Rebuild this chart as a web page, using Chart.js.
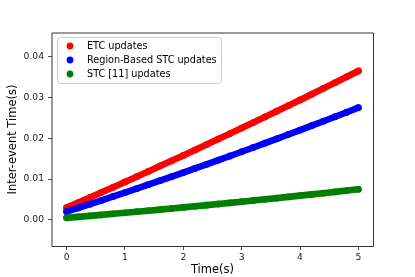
<!DOCTYPE html>
<html>
<head>
<meta charset="utf-8">
<script src="https://cdn.jsdelivr.net/npm/chart.js@4"></script>
<style>
  html, body { margin: 0; padding: 0; background: #fff; }
  canvas { display: block; }
</style>
</head>
<body>
<canvas id="chart" width="415" height="277"></canvas>
<script>
/* data */
const timeValues = [0, 0.2, 0.4, 0.6, 0.8, 1.0, 1.2, 1.4, 1.6, 1.8, 2.0, 2.2, 2.4,
                    2.6, 2.8, 3.0, 3.2, 3.4, 3.6, 3.8, 4.0, 4.2, 4.4, 4.6, 4.8, 5.0];

const etcValues = [0.0030, 0.00424, 0.0055, 0.00676, 0.00802, 0.0093, 0.01058, 0.01188,
                   0.01318, 0.01448, 0.0158, 0.01712, 0.01846, 0.0198, 0.02114, 0.0225,
                   0.02386, 0.02524, 0.02662, 0.028, 0.0294, 0.0308, 0.03222, 0.03364,
                   0.03506, 0.0365];

const regionValues = [0.0020, 0.00292, 0.00386, 0.0048, 0.00574, 0.0067, 0.00766, 0.00864,
                      0.00962, 0.0106, 0.0116, 0.0126, 0.01362, 0.01464, 0.01566, 0.0167,
                      0.01774, 0.0188, 0.01986, 0.02092, 0.022, 0.02308, 0.02418, 0.02528,
                      0.02638, 0.0275];

const stcValues = [0.0005, 0.00074, 0.00099, 0.00123, 0.00149, 0.00174, 0.0020, 0.00226,
                   0.00252, 0.00279, 0.00306, 0.00333, 0.00361, 0.00389, 0.00417, 0.00446,
                   0.00475, 0.00504, 0.00534, 0.00564, 0.00594, 0.00625, 0.00655, 0.00687,
                   0.00718, 0.0075];

const seriesLabels = ['ETC updates', 'Region-Based STC updates', 'STC [11] updates'];
const seriesColors = ['#ff0000', '#0000ff', '#008000'];

const xTicks = [0, 1, 2, 3, 4, 5];
const yTicks = [0.00, 0.01, 0.02, 0.03, 0.04];

const FONT = "'DejaVu Sans', sans-serif";

function toPoints(values) {
    return values.map((v, i) => ({ x: timeValues[i], y: v }));
}

// one dataset per series, drawn as a thick run of dots
const datasets = [etcValues, regionValues, stcValues].map((vals, i) => ({
    label: seriesLabels[i],
    data: toPoints(vals),
    showLine: true,
    borderColor: seriesColors[i],
    backgroundColor: seriesColors[i],
    borderWidth: 6.6,
    borderCapStyle: 'round',
    borderJoinStyle: 'round',
    pointRadius: 3.4,
    pointBorderWidth: 0,
    order: 3 - i
}));

/* spines, legend box and axis titles, matplotlib style */
const decorPlugin = {
    id: 'decor',
    afterDraw(chart) {
        const ctx = chart.ctx;
        const a = chart.chartArea;
        ctx.save();

        // spines
        ctx.strokeStyle = '#000';
        ctx.lineWidth = 0.8;
        ctx.beginPath();
        ctx.moveTo(a.left, a.top);
        ctx.lineTo(a.right + 0.5, a.top);
        ctx.moveTo(a.right + 0.5, a.top);
        ctx.lineTo(a.right + 0.5, a.bottom + 0.5);
        ctx.lineTo(a.left, a.bottom + 0.5);
        ctx.moveTo(a.left, a.bottom + 0.5);
        ctx.lineTo(a.left, a.top);
        ctx.stroke();

        // legend
        const bx = a.left + 5, by = a.top + 4, bw = 164, bh = 46, r = 3;
        ctx.fillStyle = 'rgba(255,255,255,0.8)';
        ctx.strokeStyle = '#cccccc';
        ctx.lineWidth = 1;
        ctx.beginPath();
        ctx.roundRect(bx + 0.5, by + 0.5, bw, bh, r);
        ctx.fill();
        ctx.stroke();

        ctx.font = '9.7px ' + FONT;
        ctx.textBaseline = 'middle';
        ctx.textAlign = 'left';
        chart.data.datasets.forEach((ds, i) => {
            const cy = by + 9 + i * 14;
            ctx.fillStyle = ds.backgroundColor;
            ctx.beginPath();
            ctx.arc(bx + 13, cy, 3.4, 0, Math.PI * 2);
            ctx.fill();
            ctx.fillStyle = '#000';
            ctx.fillText(ds.label, bx + 30, cy + 0.5);
        });

        // axis titles
        ctx.fillStyle = '#000';
        ctx.font = '11.5px ' + FONT;
        ctx.textAlign = 'center';
        ctx.textBaseline = 'middle';
        ctx.fillText('Time(s)', (a.left + a.right) / 2, 270);
        ctx.translate(13, (a.top + a.bottom) / 2);
        ctx.rotate(-Math.PI / 2);
        ctx.fillText('Inter-event Time(s)', 0, 0);

        ctx.restore();
    }
};

new Chart(document.getElementById('chart'), {
    type: 'scatter',
    data: { datasets: datasets },
    options: {
        responsive: false,
        animation: false,
        layout: { padding: { top: 33, right: 42, left: 0, bottom: 0 } },
        plugins: {
            legend: { display: false },
            tooltip: { enabled: false }
        },
        scales: {
            x: {
                type: 'linear',
                min: -0.25,
                max: 5.25,
                afterBuildTicks: scale => { scale.ticks = xTicks.map(v => ({ value: v })); },
                afterFit: scale => { scale.height = 31; },
                ticks: {
                    color: '#222',
                    font: { family: FONT, size: 9.2 },
                    padding: 2,
                    maxRotation: 0,
                    callback: v => String(v)
                },
                grid: { drawOnChartArea: false, tickLength: 4, tickColor: '#222', tickWidth: 0.8 },
                border: { display: false }
            },
            y: {
                type: 'linear',
                min: -0.0064,
                max: 0.0458,
                afterBuildTicks: scale => { scale.ticks = yTicks.map(v => ({ value: v })); },
                afterFit: scale => { scale.width = 52; },
                ticks: {
                    color: '#222',
                    font: { family: FONT, size: 9.2 },
                    padding: 4,
                    callback: v => v.toFixed(2)
                },
                grid: { drawOnChartArea: false, tickLength: 4, tickColor: '#222', tickWidth: 0.8 },
                border: { display: false }
            }
        }
    },
    plugins: [decorPlugin]
});
</script>
</body>
</html>
